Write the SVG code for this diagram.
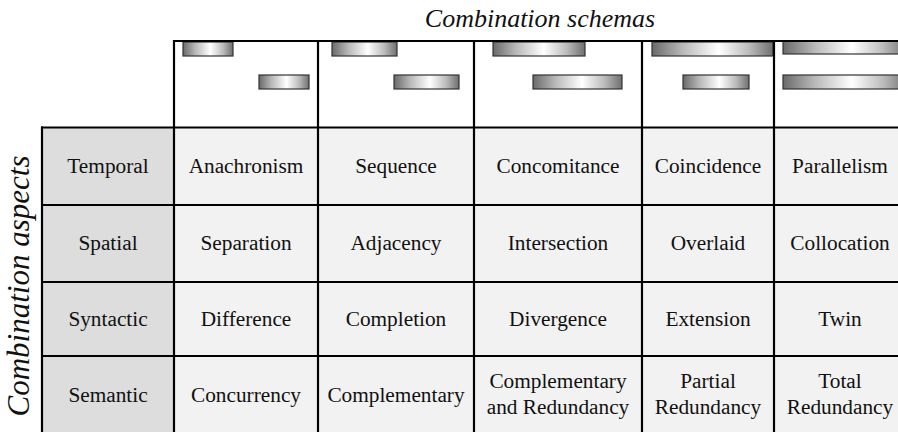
<svg xmlns="http://www.w3.org/2000/svg" width="898" height="432" viewBox="0 0 898 432">
<defs>
<linearGradient id="bar" x1="0" y1="0" x2="1" y2="0">
<stop offset="0" stop-color="#6a6a6a"/>
<stop offset="0.25" stop-color="#b8b8b8"/>
<stop offset="0.55" stop-color="#ffffff"/>
<stop offset="0.8" stop-color="#bcbcbc"/>
<stop offset="1" stop-color="#6f6f6f"/>
</linearGradient>
<style>
.t{font-family:"Liberation Serif","Times New Roman",Times,"DejaVu Serif",serif;font-size:21.3px;fill:#111;text-anchor:middle}
.title{font-family:"Liberation Serif","Times New Roman",Times,"DejaVu Serif",serif;font-style:italic;font-size:26px;fill:#111;text-anchor:middle}
.side{font-size:31px}
.hd{fill:#dddddd}
.cl{fill:#f2f2f2}
.bar{fill:url(#bar);stroke:#333;stroke-width:1.2}
.grid line{stroke:#000;stroke-width:2.2}
</style>
</defs>
<rect width="898" height="432" fill="#fff"/>
<text class="title" x="540" y="27">Combination schemas</text>
<text class="title side" transform="translate(29,286) rotate(-90)">Combination aspects</text>

<g id="schemas">
<g id="schema-anachronism"><rect class="bar" x="183" y="42" width="50" height="14"/><rect class="bar" x="259" y="75" width="50" height="14"/></g>
<g id="schema-sequence"><rect class="bar" x="332" y="42" width="65" height="14"/><rect class="bar" x="394" y="75" width="65" height="14"/></g>
<g id="schema-concomitance"><rect class="bar" x="493" y="42" width="92" height="14"/><rect class="bar" x="533" y="75" width="89" height="14"/></g>
<g id="schema-coincidence"><rect class="bar" x="652" y="42" width="121" height="14"/><rect class="bar" x="683" y="75" width="66" height="14"/></g>
<g id="schema-parallelism"><rect class="bar" x="783" y="41" width="125" height="13"/><rect class="bar" x="783" y="75" width="125" height="14"/></g>
</g>

<g id="row-temporal">
<rect class="hd" x="42" y="127" width="132" height="78"/>
<rect class="cl" x="174" y="127" width="724" height="78"/>
<text class="t" x="108" y="173">Temporal</text>
<text class="t" x="246" y="173">Anachronism</text>
<text class="t" x="396" y="173">Sequence</text>
<text class="t" x="558" y="173">Concomitance</text>
<text class="t" x="708" y="173">Coincidence</text>
<text class="t" x="840" y="173">Parallelism</text>
</g>
<g id="row-spatial">
<rect class="hd" x="42" y="205" width="132" height="77"/>
<rect class="cl" x="174" y="205" width="724" height="77"/>
<text class="t" x="108" y="250">Spatial</text>
<text class="t" x="246" y="250">Separation</text>
<text class="t" x="396" y="250">Adjacency</text>
<text class="t" x="558" y="250">Intersection</text>
<text class="t" x="708" y="250">Overlaid</text>
<text class="t" x="840" y="250">Collocation</text>
</g>
<g id="row-syntactic">
<rect class="hd" x="42" y="282" width="132" height="74"/>
<rect class="cl" x="174" y="282" width="724" height="74"/>
<text class="t" x="108" y="326">Syntactic</text>
<text class="t" x="246" y="326">Difference</text>
<text class="t" x="396" y="326">Completion</text>
<text class="t" x="558" y="326">Divergence</text>
<text class="t" x="708" y="326">Extension</text>
<text class="t" x="840" y="326">Twin</text>
</g>
<g id="row-semantic">
<rect class="hd" x="42" y="356" width="132" height="76"/>
<rect class="cl" x="174" y="356" width="724" height="76"/>
<text class="t" x="108" y="402">Semantic</text>
<text class="t" x="246" y="402">Concurrency</text>
<text class="t" x="396" y="402">Complementary</text>
<text class="t" x="558" y="388">Complementary</text>
<text class="t" x="558" y="414">and Redundancy</text>
<text class="t" x="708" y="388">Partial</text>
<text class="t" x="708" y="414">Redundancy</text>
<text class="t" x="840" y="388">Total</text>
<text class="t" x="840" y="414">Redundancy</text>
</g>

<g id="grid" class="grid">
<line x1="173" y1="41" x2="898" y2="41"/>
<line x1="41" y1="127.5" x2="898" y2="127.5"/>
<line x1="41" y1="205" x2="898" y2="205"/>
<line x1="41" y1="282" x2="898" y2="282"/>
<line x1="41" y1="356" x2="898" y2="356"/>
<line x1="42" y1="126.5" x2="42" y2="432"/>
<line x1="174" y1="40" x2="174" y2="432"/>
<line x1="318" y1="40" x2="318" y2="432"/>
<line x1="474" y1="40" x2="474" y2="432"/>
<line x1="642" y1="40" x2="642" y2="432"/>
<line x1="774" y1="40" x2="774" y2="432"/>
</g>
</svg>
